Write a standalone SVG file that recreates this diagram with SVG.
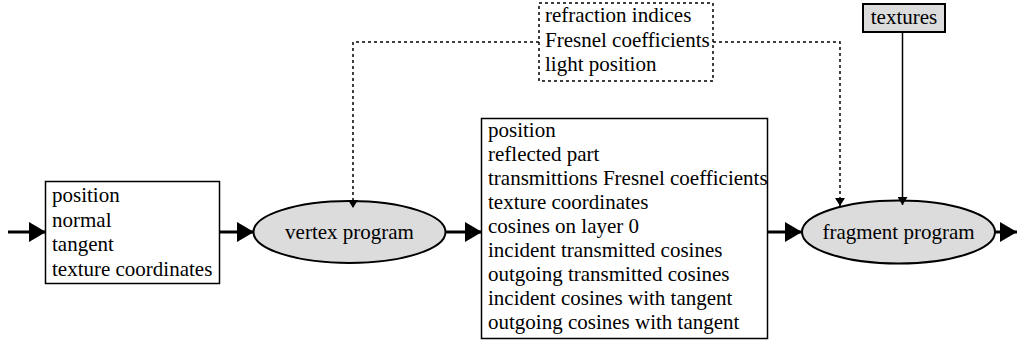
<svg xmlns="http://www.w3.org/2000/svg" width="1017" height="352" viewBox="0 0 1017 352" font-family="Liberation Serif, Times New Roman, serif" font-size="21">
<style>
.box{fill:#fff;stroke:#000;stroke-width:1.5}
.ell{fill:#dcdcdc;stroke:#000;stroke-width:2}
.thick{stroke:#000;stroke-width:3;fill:none}
.dot{stroke:#000;stroke-width:1.5;fill:none;stroke-dasharray:3 3}
.thin{stroke:#000;stroke-width:1.5;fill:none}
</style>
<defs>
<marker id="big" markerUnits="userSpaceOnUse" markerWidth="17" markerHeight="20" refX="17" refY="10" orient="auto">
<path d="M0,0 L17,10 L0,20 Z" fill="#000"/>
</marker>
<marker id="small" markerUnits="userSpaceOnUse" markerWidth="8" markerHeight="10" refX="8" refY="5" orient="auto">
<path d="M0,0 L8,5 L0,10 Z" fill="#000"/>
</marker>
</defs>
<g id="input">
<rect class="box" x="45.5" y="181.5" width="174" height="102"/>
<text x="52" y="202">position</text>
<text x="52" y="226.5">normal</text>
<text x="52" y="251">tangent</text>
<text x="52" y="275.5">texture coordinates</text>
</g>
<g id="vertex">
<ellipse class="ell" cx="349.5" cy="232" rx="96" ry="31"/>
<text x="349.5" y="239" text-anchor="middle">vertex program</text>
</g>
<g id="params">
<rect class="dot" x="539" y="3" width="174" height="78" fill="#fff"/>
<text x="545" y="22">refraction indices</text>
<text x="545" y="46.5">Fresnel coefficients</text>
<text x="545" y="71">light position</text>
</g>
<g id="interp">
<rect class="box" x="481.5" y="118.5" width="286" height="220"/>
<text x="488" y="137">position</text>
<text x="488" y="161">reflected part</text>
<text x="488" y="185">transmittions Fresnel coefficients</text>
<text x="488" y="209">texture coordinates</text>
<text x="488" y="233">cosines on layer 0</text>
<text x="488" y="257">incident transmitted cosines</text>
<text x="488" y="281">outgoing transmitted cosines</text>
<text x="488" y="305">incident cosines with tangent</text>
<text x="488" y="329">outgoing cosines with tangent</text>
</g>
<g id="fragment">
<ellipse class="ell" cx="898.5" cy="232" rx="96.5" ry="31.5"/>
<text x="898.5" y="239" text-anchor="middle">fragment program</text>
</g>
<g id="textures">
<rect x="863" y="4" width="82" height="28" fill="#dcdcdc" stroke="#000" stroke-width="2"/>
<text x="904" y="24" text-anchor="middle">textures</text>
</g>
<g id="connectors">
<line class="thick" x1="8" y1="232" x2="46" y2="232" marker-end="url(#big)"/>
<line class="thick" x1="220" y1="232" x2="254" y2="232" marker-end="url(#big)"/>
<line class="thick" x1="446" y1="232" x2="482" y2="232" marker-end="url(#big)"/>
<line class="thick" x1="768" y1="232" x2="802" y2="232" marker-end="url(#big)"/>
<line class="thick" x1="995" y1="232" x2="1017" y2="232" marker-end="url(#big)"/>
<polyline class="dot" points="539,42 353,42 353,208" marker-end="url(#small)"/>
<polyline class="dot" points="713,42 840,42 840,206" marker-end="url(#small)"/>
<line class="thin" x1="902.5" y1="32" x2="902.5" y2="205" marker-end="url(#small)"/>
</g>
</svg>
